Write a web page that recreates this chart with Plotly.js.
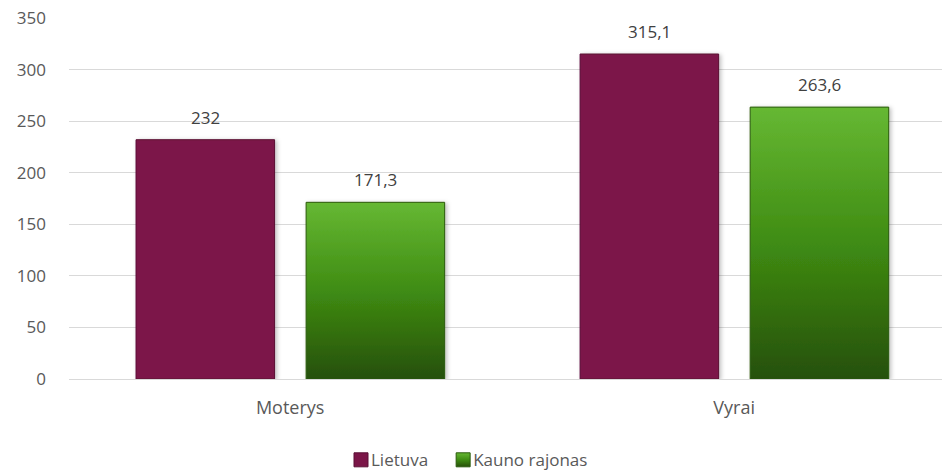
<!DOCTYPE html>
<html>
<head>
<meta charset="utf-8">
<script src="https://cdn.plot.ly/plotly-3.0.1.min.js"></script>
<style>
  html, body { margin: 0; padding: 0; background: #ffffff; }
  #chart { width: 944px; height: 475px; }
</style>
</head>
<body>
<div id="chart"></div>
<script>
// Categories and series
const categories = ['Moterys', 'Vyrai'];
const seriesNames = ['Lietuva', 'Kauno rajonas'];
const lietuva = [232, 315.1];
const kaunoRajonas = [171.3, 263.6];
const yTicks = [0, 50, 100, 150, 200, 250, 300, 350];

const FONT = '"Open Sans", "Noto Sans", sans-serif';
const TEXT_COLOR = '#595959';
const BAR_W = 0.312;
const OFFSETS = [-0.347, 0.036];

function fmt(v) { return String(v).replace('.', ','); }

const traces = [
  {
    type: 'bar', name: seriesNames[0], x: categories, y: lietuva,
    width: BAR_W, offset: OFFSETS[0],
    marker: { color: '#7b1648', line: { color: '#5a0f34', width: 1 } },
    hoverinfo: 'skip'
  },
  {
    type: 'bar', name: seriesNames[1], x: categories, y: kaunoRajonas,
    width: BAR_W, offset: OFFSETS[1],
    marker: { color: '#3f8a12', line: { color: '#2a5a0c', width: 1 } },
    hoverinfo: 'skip'
  }
];

// Value labels above each bar
const annotations = [];
[lietuva, kaunoRajonas].forEach((vals, s) => {
  vals.forEach((v, i) => {
    annotations.push({
      x: i + OFFSETS[s] + BAR_W / 2, y: v, xref: 'x', yref: 'y',
      text: fmt(v), showarrow: false, yanchor: 'bottom', yshift: 9,
      font: { family: FONT, size: 17, color: '#404040' }
    });
  });
});

const layout = {
  width: 944, height: 475,
  margin: { l: 69, r: 2, t: 18, b: 95.5 },
  paper_bgcolor: '#ffffff', plot_bgcolor: '#ffffff',
  barmode: 'group',
  showlegend: true,
  xaxis: {
    type: 'category', range: [-0.498, 1.468],
    showgrid: false, zeroline: false, showline: false, ticks: '',
    tickfont: { family: FONT, size: 18, color: TEXT_COLOR },
    ticklabelstandoff: 16
  },
  yaxis: {
    range: [0, 350], tickvals: yTicks, ticktext: yTicks.map(String),
    showgrid: true, gridcolor: '#d9d9d9', gridwidth: 1,
    zeroline: true, zerolinecolor: '#d9d9d9', zerolinewidth: 1,
    showline: false, ticks: '',
    tickfont: { family: FONT, size: 17, color: TEXT_COLOR },
    ticklabelstandoff: 22
  },
  legend: {
    orientation: 'h', xref: 'container', yref: 'container',
    x: 0.5, xanchor: 'center', y: 0.031, yanchor: 'middle',
    font: { family: FONT, size: 17, color: TEXT_COLOR },
    itemwidth: 30, tracegroupgap: 0, traceorder: 'normal'
  },
  annotations: annotations
};

Plotly.newPlot('chart', traces, layout, { displayModeBar: false, staticPlot: true }).then(gd => {
  // Vertical gradient and soft shadow for the bars
  const svg = gd.querySelector('svg.main-svg');
  const NS = 'http://www.w3.org/2000/svg';
  let defs = svg.querySelector('defs');
  if (!defs) { defs = document.createElementNS(NS, 'defs'); svg.insertBefore(defs, svg.firstChild); }
  const grad = document.createElementNS(NS, 'linearGradient');
  grad.setAttribute('id', 'kaunoGrad');
  grad.setAttribute('x1', '0'); grad.setAttribute('y1', '0');
  grad.setAttribute('x2', '0'); grad.setAttribute('y2', '1');
  [['0', '#66b833'], ['0.5', '#3f8c13'], ['1', '#265008']].forEach(([o, c]) => {
    const st = document.createElementNS(NS, 'stop');
    st.setAttribute('offset', o); st.setAttribute('stop-color', c);
    grad.appendChild(st);
  });
  defs.appendChild(grad);
  const flt = document.createElementNS(NS, 'filter');
  flt.setAttribute('id', 'barShadow');
  flt.setAttribute('x', '-10%'); flt.setAttribute('y', '-10%');
  flt.setAttribute('width', '130%'); flt.setAttribute('height', '120%');
  const ds = document.createElementNS(NS, 'feDropShadow');
  ds.setAttribute('dx', '2'); ds.setAttribute('dy', '1');
  ds.setAttribute('stdDeviation', '2'); ds.setAttribute('flood-color', '#000');
  ds.setAttribute('flood-opacity', '0.25');
  flt.appendChild(ds);
  defs.appendChild(flt);

  const traceGroups = gd.querySelectorAll('.barlayer .trace');
  traceGroups.forEach((g, idx) => {
    g.querySelectorAll('path').forEach(p => {
      p.setAttribute('filter', 'url(#barShadow)');
      if (idx === 1) p.style.fill = 'url(#kaunoGrad)';
    });
  });

  // Legend: larger swatches sitting close to their labels
  gd.querySelectorAll('.legend .traces').forEach((t, idx) => {
    t.querySelectorAll('.legendpoints path').forEach(p => {
      p.setAttribute('d', 'M-7,-7H7V7H-7Z');
      if (idx === 1) p.style.fill = 'url(#kaunoGrad)';
    });
    const txt = t.querySelector('text.legendtext');
    if (txt) txt.setAttribute('x', String(parseFloat(txt.getAttribute('x')) - 10));
  });
});
</script>
</body>
</html>
